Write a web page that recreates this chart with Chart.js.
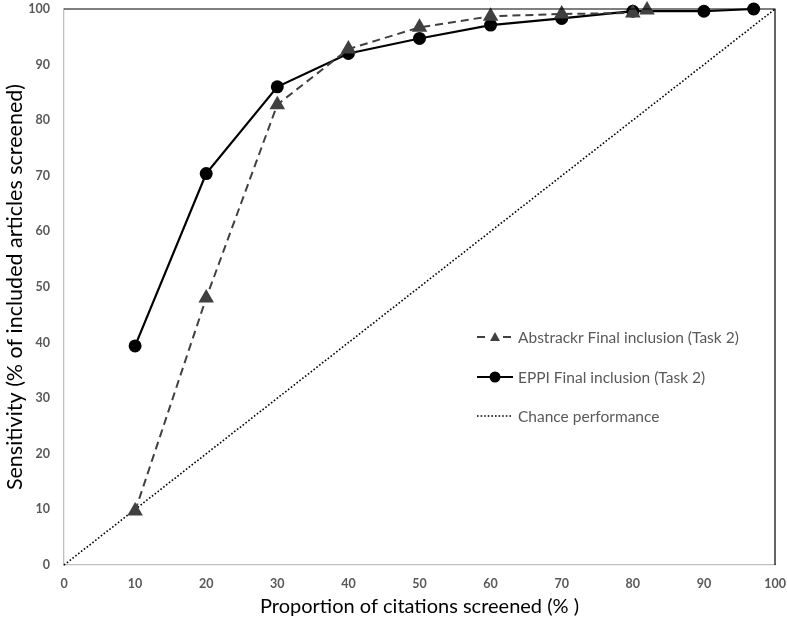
<!DOCTYPE html>
<html lang="en">
<head>
  <meta charset="UTF-8" />
  <title>Sensitivity vs proportion screened</title>
  <script src="https://cdn.jsdelivr.net/npm/chart.js"></script>
  <style>
    html, body { margin: 0; padding: 0; background: #fff; }
    #wrap { width: 787px; height: 622px; }
  </style>
</head>
<body>
  <div id="wrap"><canvas id="roc"></canvas></div>

  <script>
    // data
    const abstrackrX = [10, 20, 30, 40, 50, 60, 70, 80, 82];
    const abstrackrY = [9.7, 48.0, 82.8, 92.8, 96.7, 98.7, 99.1, 99.3, 99.8];
    const eppiX = [10, 20, 30, 40, 50, 60, 70, 80, 90, 97];
    const eppiY = [39.4, 70.4, 86.0, 92.0, 94.7, 97.1, 98.3, 99.6, 99.6, 100];
    const chanceX = [0, 100];
    const chanceY = [0, 100];
    const seriesLabels = ['Abstrackr Final inclusion (Task 2)', 'EPPI Final inclusion (Task 2)', 'Chance performance'];
    const xTitle = 'Proportion of citations screened (% )';
    const yTitle = 'Sensitivity (% of included articles screened)';

    const toPoints = (xs, ys) => xs.map((x, i) => ({ x: x, y: ys[i] }));
    const tickFont = { family: 'Lato, "Open Sans", sans-serif', size: 12.5, weight: 'bold' };

    // black frame on top/right, legend drawn inside plot
    const framePlugin = {
      id: 'frame',
      afterDraw(chart) {
        const { ctx, chartArea: a } = chart;
        ctx.save();
        ctx.strokeStyle = '#000';
        ctx.lineWidth = 1.2;
        ctx.beginPath();
        ctx.moveTo(a.left, a.top);
        ctx.lineTo(a.right, a.top);
        ctx.lineTo(a.right, a.bottom);
        ctx.stroke();

        // legend
        const rows = [337, 377, 416];
        const x0 = 477, x1 = 513;
        const mid = (x0 + x1) / 2;
        ctx.font = '15.5px Lato, "Open Sans", sans-serif';
        ctx.textBaseline = 'middle';
        chart.data.datasets.forEach((ds, i) => {
          const y = rows[i];
          ctx.strokeStyle = ds.borderColor;
          ctx.lineWidth = ds.borderWidth;
          ctx.setLineDash(ds.borderDash || []);
          ctx.beginPath();
          ctx.moveTo(x0, y);
          ctx.lineTo(x1, y);
          ctx.stroke();
          ctx.setLineDash([]);
          if (ds.pointStyle === 'triangle') {
            ctx.fillStyle = '#fff';
            ctx.fillRect(mid - 8, y - 7, 16, 14);
            ctx.fillStyle = ds.pointBackgroundColor;
            ctx.beginPath();
            ctx.moveTo(mid, y - 5);
            ctx.lineTo(mid + 5, y + 4);
            ctx.lineTo(mid - 5, y + 4);
            ctx.closePath();
            ctx.fill();
          } else if (ds.pointStyle === 'circle' && ds.pointRadius > 0) {
            ctx.fillStyle = ds.pointBackgroundColor;
            ctx.beginPath();
            ctx.arc(mid, y, 5.5, 0, Math.PI * 2);
            ctx.fill();
          }
          ctx.fillStyle = '#595959';
          ctx.fillText(ds.label, x1 + 5, y + 1);
        });
        ctx.restore();
      }
    };

    new Chart(document.getElementById('roc'), {
      type: 'scatter',
      data: {
        datasets: [
          {
            label: seriesLabels[0],
            data: toPoints(abstrackrX, abstrackrY),
            showLine: true,
            borderColor: '#404040',
            borderWidth: 2,
            borderDash: [8, 5],
            pointStyle: 'triangle',
            pointRadius: 9,
            pointBackgroundColor: '#404040',
            pointBorderColor: '#404040',
            pointBorderWidth: 0
          },
          {
            label: seriesLabels[1],
            data: toPoints(eppiX, eppiY),
            showLine: true,
            borderColor: '#000',
            borderWidth: 2.2,
            pointStyle: 'circle',
            pointRadius: 6.5,
            pointBackgroundColor: '#000',
            pointBorderColor: '#000',
            pointBorderWidth: 0
          },
          {
            label: seriesLabels[2],
            data: toPoints(chanceX, chanceY),
            showLine: true,
            borderColor: '#000',
            borderWidth: 1.6,
            borderDash: [1.6, 2],
            pointStyle: 'circle',
            pointRadius: 0
          }
        ]
      },
      options: {
        responsive: true,
        maintainAspectRatio: false,
        animation: false,
        clip: false,
        layout: { padding: { top: 8, right: 12, left: 0, bottom: 0 } },
        plugins: {
          legend: { display: false },
          tooltip: { enabled: false }
        },
        scales: {
          x: {
            type: 'linear',
            min: 0,
            max: 100,
            afterFit: s => { s.height = 57; s.paddingLeft = 0; s.paddingRight = 0; },
            grid: { display: false, drawTicks: false },
            border: { color: '#bfbfbf', width: 1.3 },
            ticks: {
              stepSize: 10,
              padding: 11,
              color: '#595959',
              font: tickFont
            },
            title: {
              display: true,
              text: xTitle,
              color: '#000',
              padding: { top: 0, bottom: 3 },
              font: { family: 'Lato, "Open Sans", sans-serif', size: 20 }
            }
          },
          y: {
            min: 0,
            max: 100,
            afterFit: s => { s.width = 64; s.paddingTop = 0; s.paddingBottom = 0; },
            grid: { display: false, drawTicks: false },
            border: { color: '#bfbfbf', width: 1.3 },
            ticks: {
              stepSize: 10,
              padding: 14,
              color: '#595959',
              font: tickFont
            },
            title: {
              display: true,
              text: yTitle,
              color: '#000',
              padding: { top: 2, bottom: 0 },
              font: { family: 'Lato, "Open Sans", sans-serif', size: 21.5 }
            }
          }
        }
      },
      plugins: [framePlugin]
    });
  </script>
</body>
</html>
